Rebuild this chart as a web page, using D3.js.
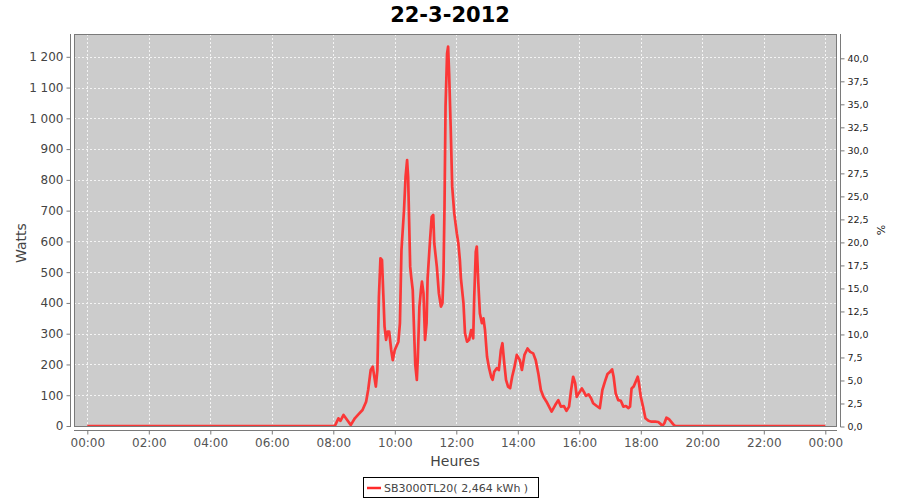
<!DOCTYPE html>
<html>
<head>
<meta charset="utf-8">
<script src="https://cdn.jsdelivr.net/npm/d3@7/dist/d3.min.js"></script>
<style>
  html, body { margin: 0; padding: 0; background: #ffffff; }
  svg { display: block; }
</style>
</head>
<body>
<svg id="chart" width="900" height="500"></svg>
<script>
// ---- data ----
const chartTitle = "22-3-2012";
const seriesName = "SB3000TL20( 2,464 kWh )";
const times = ["00:00","08:03","08:10","08:14","08:20","08:26","08:34","08:42","08:49","08:57",
  "09:04","09:08","09:13","09:17","09:19","09:23","09:26","09:29","09:32","09:35","09:38","09:40",
  "09:43","09:46","09:49","09:53","09:56","10:00","10:07","10:10","10:13","10:18","10:21","10:24",
  "10:26","10:30","10:32","10:35","10:38","10:40","10:43","10:45","10:48","10:51","10:53","10:56",
  "10:59","11:02","11:04","11:09","11:12","11:15","11:17","11:22","11:26","11:30","11:33","11:35",
  "11:37","11:39","11:42","11:44","11:46","11:49","11:52","11:56","12:01","12:04","12:07","12:09",
  "12:14","12:17","12:21","12:25","12:29","12:33","12:35","12:38","12:40","12:43","12:46","12:50",
  "12:53","12:56","13:00","13:04","13:08","13:11","13:14","13:19","13:23","13:27","13:30","13:33",
  "13:37","13:41","13:45","13:49","13:53","13:58","14:04","14:08","14:13","14:19","14:24","14:30",
  "14:35","14:40","14:45","14:50","14:56","15:01","15:06","15:13","15:19","15:24","15:30","15:35",
  "15:40","15:44","15:48","15:52","15:55","15:59","16:05","16:09","16:13","16:18","16:23","16:27",
  "16:34","16:40","16:45","16:50","16:55","17:00","17:04","17:07","17:11","17:16","17:21","17:26",
  "17:31","17:36","17:39","17:42","17:46","17:50","17:54","17:56","18:00","18:05","18:09","18:15",
  "18:21","18:28","18:34","18:39","18:42","18:46","18:50","18:55","18:59","19:03","19:07","24:00"];
const watts = [0,0,25,17,36,22,3,25,38,52,
  79,117,182,193,171,128,182,420,545,540,410,323,
  280,307,307,247,214,247,274,334,572,702,810,864,
  810,518,485,442,290,198,150,225,388,442,469,431,
  280,334,480,610,680,686,594,518,431,388,399,496,
  713,1038,1211,1233,1146,973,778,691,626,594,539,480,
  399,301,274,280,312,285,420,566,583,464,366,334,
  350,312,225,188,160,150,176,188,182,247,269,214,
  150,128,123,160,188,231,214,182,231,252,241,236,
  214,171,117,95,79,63,47,68,84,63,65,49,
  63,117,160,139,95,106,122,111,98,103,90,74,
  65,58,117,144,169,176,184,160,106,84,82,63,
  65,58,63,122,128,144,160,144,95,58,25,17,
  14,14,13,6,0,9,27,22,14,6,0,0];
const leftTicks = [0,100,200,300,400,500,600,700,800,900,1000,1100,1200];
const rightTicks = [0,2.5,5,7.5,10,12.5,15,17.5,20,22.5,25,27.5,30,32.5,35,37.5,40];
const hourTicks = [0,2,4,6,8,10,12,14,16,18,20,22,24];
const xTitle = "Heures", yTitle = "Watts", y2Title = "%";

// ---- layout ----
const svg = d3.select("#chart");
const plot = {left: 74, top: 34, right: 837, bottom: 426};
const toMin = s => { const [h, m] = s.split(":").map(Number); return h * 60 + m; };
const data = times.map((t, i) => ({t: toMin(t), w: watts[i]}));

const x = d3.scaleLinear().domain([0, 1440]).range([87.3, 825.3]);
const y = d3.scaleLinear().domain([0, 1200]).range([426, 56.8]);
const y2 = d3.scaleLinear().domain([0, 40]).range([426.5, 58.3]);

// title
svg.append("text").attr("x", 450).attr("y", 22).attr("text-anchor", "middle")
  .attr("font-family", "DejaVu Sans").attr("font-weight", "bold").attr("font-size", 21)
  .attr("fill", "#000").text(chartTitle);

// plot background
svg.append("rect").attr("x", plot.left).attr("y", plot.top)
  .attr("width", plot.right - plot.left).attr("height", plot.bottom - plot.top)
  .attr("fill", "#cccccc");

// grid
const grid = svg.append("g").attr("stroke", "#f4f4f4").attr("stroke-width", 1)
  .attr("stroke-dasharray", "2,2").attr("shape-rendering", "crispEdges");
grid.selectAll("line.v").data(hourTicks).join("line")
  .attr("x1", d => Math.round(x(d * 60)) + 0.5).attr("x2", d => Math.round(x(d * 60)) + 0.5)
  .attr("y1", plot.top).attr("y2", plot.bottom);
grid.selectAll("line.h").data(leftTicks.filter(d => d > 0)).join("line")
  .attr("y1", d => Math.round(y(d)) + 0.5).attr("y2", d => Math.round(y(d)) + 0.5)
  .attr("x1", plot.left).attr("x2", plot.right);

// series line
svg.append("clipPath").attr("id", "clip").append("rect")
  .attr("x", plot.left).attr("y", plot.top)
  .attr("width", plot.right - plot.left).attr("height", plot.bottom - plot.top + 1);
const line = d3.line().x(d => x(d.t)).y(d => y(d.w));
svg.append("path").datum(data).attr("clip-path", "url(#clip)")
  .attr("fill", "none").attr("stroke", "#ff2a2a").attr("stroke-opacity", 0.92)
  .attr("stroke-width", 2.7).attr("stroke-linejoin", "round").attr("d", line);

// plot outline
svg.append("rect").attr("x", plot.left + 0.5).attr("y", plot.top + 0.5)
  .attr("width", plot.right - plot.left - 1).attr("height", plot.bottom - plot.top)
  .attr("fill", "none").attr("stroke", "#7a7a7a").attr("stroke-width", 1);

// axes
function styleAxis(g, color, size, font) {
  g.select(".domain").attr("stroke", "#7a7a7a");
  g.selectAll(".tick line").attr("stroke", "#7a7a7a");
  g.selectAll(".tick text").attr("fill", color).attr("font-size", size)
    .attr("font-family", font);
}
const gl = svg.append("g").attr("transform", "translate(70.5,0)")
  .call(d3.axisLeft(y).tickValues(leftTicks).tickSize(4).tickSizeOuter(0).tickPadding(3)
    .tickFormat(d => d3.format(",")(d).replace(/,/g, " ")));
gl.select(".domain").attr("d", `M0,${plot.top}V${plot.bottom + 1}`);
styleAxis(gl, "#444", 12, "DejaVu Sans");

const gr = svg.append("g").attr("transform", "translate(840.5,0)")
  .call(d3.axisRight(y2).tickValues(rightTicks).tickSize(4).tickSizeOuter(0).tickPadding(3)
    .tickFormat(d => d3.format(".1f")(d).replace(".", ",")));
gr.select(".domain").attr("d", `M0,${plot.top}V${plot.bottom + 1}`);
styleAxis(gr, "#222", 9.5, "DejaVu Sans");

const gb = svg.append("g").attr("transform", "translate(0,430.5)")
  .call(d3.axisBottom(x).tickValues(hourTicks.map(h => h * 60)).tickSize(4).tickSizeOuter(0)
    .tickPadding(4).tickFormat(d => String((d / 60) % 24).padStart(2, "0") + ":00"));
gb.select(".domain").attr("d", `M${plot.left},0H${plot.right}`);
styleAxis(gb, "#555", 12, "DejaVu Sans");

// axis titles
svg.append("text").attr("transform", "translate(26,243) rotate(-90)").attr("text-anchor", "middle")
  .attr("font-family", "DejaVu Sans").attr("font-size", 14).attr("fill", "#444").text(yTitle);
svg.append("text").attr("transform", "translate(885,230) rotate(-90)").attr("text-anchor", "middle")
  .attr("font-family", "DejaVu Sans").attr("font-size", 11).attr("fill", "#222").text(y2Title);
svg.append("text").attr("x", 455).attr("y", 466).attr("text-anchor", "middle")
  .attr("font-family", "DejaVu Sans").attr("font-size", 14).attr("fill", "#444").text(xTitle);

// legend
const lg = svg.append("g");
lg.append("rect").attr("x", 363.5).attr("y", 477.5).attr("width", 175).attr("height", 20)
  .attr("fill", "#fff").attr("stroke", "#000");
lg.append("line").attr("x1", 367).attr("x2", 381).attr("y1", 488).attr("y2", 488)
  .attr("stroke", "#ff2a2a").attr("stroke-width", 2.5);
lg.append("text").attr("x", 384).attr("y", 492).attr("font-family", "DejaVu Sans")
  .attr("font-size", 11).attr("fill", "#444").text(seriesName);
</script>
</body>
</html>
